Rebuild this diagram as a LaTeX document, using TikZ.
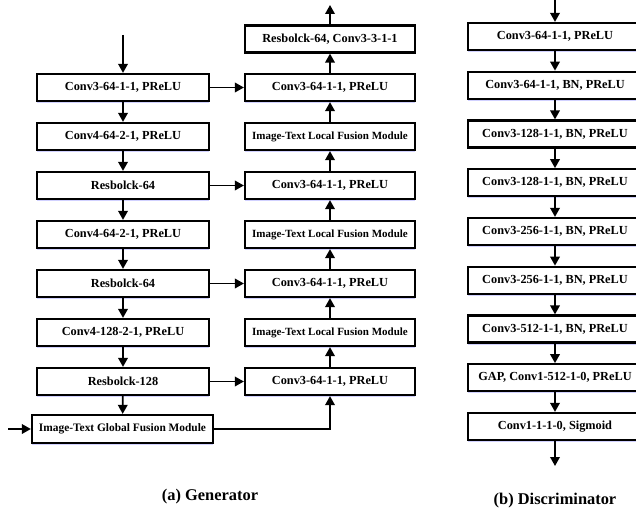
\documentclass[tikz,border=0pt]{standalone}
\usepackage{fontspec}
\setmainfont{Liberation Serif}
\usetikzlibrary{arrows.meta,shadows}

\begin{document}
\begin{tikzpicture}[x=1pt,y=-1pt,
	blk/.style={draw,line width=2.2pt,minimum width=172pt,minimum height=27pt,inner sep=0pt,fill=white,
		font=\fontsize{12.3}{14}\selectfont\bfseries,
		drop shadow={shadow xshift=0pt,shadow yshift=-2pt,fill=blue!18,opacity=1}},
	fus/.style={blk,font=\fontsize{11}{13}\selectfont\bfseries},
	arr/.style={line width=1.8pt,-{Triangle[length=9pt,width=9.5pt]}}]
	\path[use as bounding box] (0,0) rectangle (636,513);
	\clip (0,0) rectangle (636,513);
	
	% Generator: cột trái
	\foreach \t [count=\i] in {{Conv3-64-1-1, PReLU},{Conv4-64-2-1, PReLU},Resbolck-64,{Conv4-64-2-1, PReLU},Resbolck-64,{Conv4-128-2-1, PReLU},Resbolck-128}
	{\node[blk] (e\i) at (123,{87.5+49*(\i-1)}) {\t};}
	\foreach \i [count=\j from 2] in {1,...,6}{\draw[arr] (e\i) -- (e\j);}
	\node[blk,minimum width=181pt,minimum height=28pt,font=\fontsize{11.4}{14}\selectfont\bfseries] (gf) at (122.5,429) {Image-Text Global Fusion Module};
	\draw[arr] (e7) -- (gf);
	\coordinate (gin) at (123,35);
	\coordinate (tin) at (8,429);
	\draw[arr] (gin) -- (e1);
	\draw[arr] (tin) -- (gf);
	
	% Generator: cột phải
	\foreach \i in {1,3,5,7}{\node[blk,minimum width=170pt] (d\i) at (330,{381.5-49*(\i-1)}) {Conv3-64-1-1, PReLU};}
	\foreach \i in {2,4,6}{\node[fus,minimum width=170pt] (d\i) at (330,{381.5-49*(\i-1)}) {Image-Text Local Fusion Module};}
	\node[blk,minimum width=170pt] (out) at (330,39) {Resbolck-64, Conv3-3-1-1};
	\foreach \i [count=\j from 2] in {1,...,6}{\draw[arr] (d\i) -- (d\j);}
	\draw[arr] (d7) -- (out);
	\coordinate (gout) at (330,5);
	\draw[arr] (out) -- (gout);
	
	% Các kết nối ngang
	\draw[arr] (e1) -- (d7);
	\draw[arr] (e3) -- (d5);
	\draw[arr] (e5) -- (d3);
	\draw[arr] (e7) -- (d1);
	\draw[arr] (gf.east) -| (d1);
	
	% Discriminator
	\foreach \t [count=\i] in {{Conv3-64-1-1, PReLU},{Conv3-64-1-1, BN, PReLU},{Conv3-128-1-1, BN, PReLU},{Conv3-128-1-1, BN, PReLU},{Conv3-256-1-1, BN, PReLU},{Conv3-256-1-1, BN, PReLU},{Conv3-512-1-1, BN, PReLU},{GAP, Conv1-512-1-0, PReLU},{Conv1-1-1-0, Sigmoid}}
	{\node[blk,minimum width=174pt] (c\i) at (555,{36.5+48.75*(\i-1)}) {\t};}
	\foreach \i [count=\j from 2] in {1,...,8}{\draw[arr] (c\i) -- (c\j);}
	\coordinate (din) at (555,0);
	\coordinate (dout) at (555,466);
	\draw[arr] (din) -- (c1);
	\draw[arr] (c9) -- (dout);
	
	% Chú thích
	\node[font=\fontsize{16.4}{18}\selectfont\bfseries] (capa) at (210,497) {(a) Generator};
	\node[font=\fontsize{16.4}{18}\selectfont\bfseries] (capb) at (555,501) {(b) Discriminator};
\end{tikzpicture}
\end{document}
